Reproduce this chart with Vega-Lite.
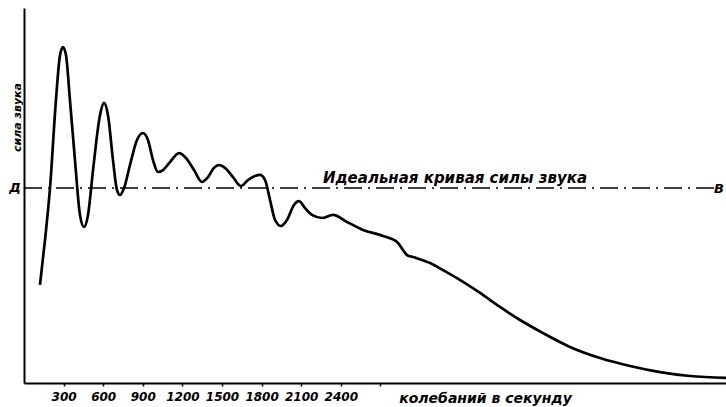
{
  "$schema": "https://vega.github.io/schema/vega-lite/v6.json",
  "width": 702,
  "height": 375,
  "autosize": "none",
  "padding": {"left": 24, "top": 8, "right": 0, "bottom": 24},
  "background": "white",
  "config": {
    "view": {"stroke": null},
    "axis": {"grid": false, "domainColor": "black", "tickColor": "black", "labelColor": "black", "titleColor": "black"}
  },
  "datasets": {
    "curve": [
      {"f": 121, "s": 50.3}, {"f": 159, "s": 73.3}, {"f": 197, "s": 100.0}, {"f": 242, "s": 145.1},
      {"f": 273, "s": 168.2}, {"f": 295, "s": 172.3}, {"f": 318, "s": 168.2}, {"f": 348, "s": 145.1},
      {"f": 386, "s": 114.4}, {"f": 424, "s": 86.2}, {"f": 454, "s": 80.0}, {"f": 485, "s": 86.2},
      {"f": 523, "s": 109.2}, {"f": 576, "s": 137.4}, {"f": 606, "s": 143.6}, {"f": 636, "s": 137.4},
      {"f": 674, "s": 114.4}, {"f": 704, "s": 99.0}, {"f": 727, "s": 96.4}, {"f": 758, "s": 100.0},
      {"f": 803, "s": 111.8}, {"f": 856, "s": 124.6}, {"f": 901, "s": 128.2}, {"f": 939, "s": 124.6},
      {"f": 977, "s": 114.4}, {"f": 1015, "s": 108.2}, {"f": 1053, "s": 109.2}, {"f": 1106, "s": 113.3},
      {"f": 1174, "s": 117.9}, {"f": 1227, "s": 115.4}, {"f": 1288, "s": 109.2}, {"f": 1348, "s": 103.1},
      {"f": 1394, "s": 105.6}, {"f": 1439, "s": 110.3}, {"f": 1477, "s": 111.8}, {"f": 1523, "s": 110.3},
      {"f": 1583, "s": 105.6}, {"f": 1644, "s": 101.0}, {"f": 1697, "s": 104.1}, {"f": 1750, "s": 106.2},
      {"f": 1788, "s": 106.7}, {"f": 1826, "s": 104.1}, {"f": 1864, "s": 93.8}, {"f": 1902, "s": 83.6},
      {"f": 1947, "s": 80.5}, {"f": 1992, "s": 83.6}, {"f": 2045, "s": 91.3}, {"f": 2083, "s": 93.3},
      {"f": 2129, "s": 89.7}, {"f": 2182, "s": 86.2}, {"f": 2258, "s": 84.6}, {"f": 2341, "s": 86.2},
      {"f": 2447, "s": 82.6}, {"f": 2568, "s": 78.5}, {"f": 2720, "s": 75.4}, {"f": 2826, "s": 72.3},
      {"f": 2871, "s": 68.2}, {"f": 2902, "s": 65.6}, {"f": 2947, "s": 64.6}, {"f": 3076, "s": 61.5},
      {"f": 3174, "s": 57.9}, {"f": 3280, "s": 53.8}, {"f": 3455, "s": 46.2}, {"f": 3606, "s": 39.0},
      {"f": 3758, "s": 32.3}, {"f": 3932, "s": 25.6}, {"f": 4136, "s": 18.5}, {"f": 4364, "s": 12.8},
      {"f": 4591, "s": 8.7}, {"f": 4818, "s": 5.6}, {"f": 5045, "s": 3.6}, {"f": 5318, "s": 2.6}
    ],
    "ideal": [{"f": 0, "f2": 5230, "s": 100}],
    "labels": [
      {"f": 0, "s": 100, "t": "Д", "kind": "left"},
      {"f": 5228, "s": 100, "t": "В", "kind": "right"}
    ],
    "caption": [{"f": 3265, "s": 100, "t": "Идеальная кривая силы звука"}]
  },
  "encoding": {
    "x": {
      "field": "f", "type": "quantitative",
      "scale": {"domain": [0, 5318], "nice": false, "zero": false},
      "axis": {
        "values": [300, 600, 900, 1200, 1500, 1800, 2100, 2400, 2700],
        "labelExpr": "datum.value <= 2400 ? datum.label : ''",
        "format": "d",
        "tickSize": 3, "tickOffset": 0, "tickWidth": 1.5, "tickBand": "center",
        "domainWidth": 2,
        "labelFont": "DejaVu Sans", "labelFontStyle": "italic", "labelFontWeight": "bold", "labelFontSize": 12,
        "labelPadding": 5, "labelFlush": false,
        "title": "колебаний в секунду",
        "titleFont": "DejaVu Sans", "titleFontStyle": "italic", "titleFontWeight": "bold", "titleFontSize": 14,
        "titleAnchor": "start", "titleAlign": "center", "titleX": 461, "titleY": 19, "titleBaseline": "alphabetic"
      }
    },
    "y": {
      "field": "s", "type": "quantitative",
      "scale": {"domain": [0, 192.3], "nice": false, "zero": false},
      "axis": {
        "ticks": false, "labels": false, "domainWidth": 2,
        "title": "сила звука",
        "titleFont": "DejaVu Sans", "titleFontStyle": "italic", "titleFontWeight": "bold", "titleFontSize": 11,
        "titleAngle": -90, "titleAlign": "center", "titleBaseline": "middle",
        "titleX": -7, "titleY": 109
      }
    }
  },
  "layer": [
    {
      "data": {"name": "ideal"},
      "mark": {"type": "rule", "color": "black", "strokeWidth": 1.3, "strokeDash": [18, 6, 2, 6]},
      "encoding": {"x2": {"field": "f2"}}
    },
    {
      "data": {"name": "curve"},
      "mark": {"type": "line", "color": "black", "strokeWidth": 2.7, "interpolate": "monotone"}
    },
    {
      "data": {"name": "labels"},
      "transform": [{"filter": "datum.kind == 'left'"}],
      "mark": {"type": "text", "font": "DejaVu Sans", "fontStyle": "italic", "fontWeight": "bold", "fontSize": 13, "align": "center", "baseline": "middle", "dx": -9, "color": "black"},
      "encoding": {"text": {"field": "t"}}
    },
    {
      "data": {"name": "labels"},
      "transform": [{"filter": "datum.kind == 'right'"}],
      "mark": {"type": "text", "font": "DejaVu Sans", "fontStyle": "italic", "fontWeight": "bold", "fontSize": 13, "align": "left", "baseline": "middle", "dx": 0, "dy": 1, "color": "black"},
      "encoding": {"text": {"field": "t"}}
    },
    {
      "data": {"name": "caption"},
      "mark": {"type": "text", "font": "DejaVu Sans", "fontStyle": "italic", "fontWeight": "bold", "fontSize": 15, "align": "center", "baseline": "alphabetic", "dy": -5, "color": "black"},
      "encoding": {"text": {"field": "t"}}
    }
  ]
}
